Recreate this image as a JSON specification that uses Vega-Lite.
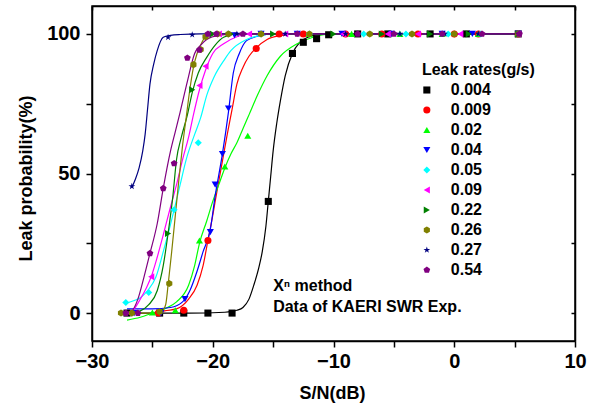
{
  "$schema": "https://vega.github.io/schema/vega-lite/v6.json",
  "width": 483,
  "height": 335,
  "autosize": "none",
  "padding": {"left": 92, "top": 6, "right": 24, "bottom": 66},
  "background": "white",
  "config": {"view": {"stroke": "#000", "strokeWidth": 1.5}},
  "datasets": {
    "pts": [
      {"s":"0.004","x":-27.1,"y":0},{"s":"0.004","x":-24.4,"y":0},{"s":"0.004","x":-22.4,"y":0},{"s":"0.004","x":-20.4,"y":0},{"s":"0.004","x":-18.4,"y":0},{"s":"0.004","x":-15.4,"y":40},{"s":"0.004","x":-13.4,"y":93},{"s":"0.004","x":-12.5,"y":97},{"s":"0.004","x":-11.4,"y":98.3},{"s":"0.004","x":-10.4,"y":99.7},{"s":"0.004","x":-8,"y":100},{"s":"0.004","x":-5.5,"y":100},{"s":"0.004","x":-2,"y":100},{"s":"0.004","x":1,"y":100},{"s":"0.004","x":5.3,"y":100},
      {"s":"0.009","x":-24.5,"y":0},{"s":"0.009","x":-22.4,"y":1},{"s":"0.009","x":-20.4,"y":26},{"s":"0.009","x":-16.4,"y":94.8},{"s":"0.009","x":-14.5,"y":100},{"s":"0.009","x":-12.5,"y":100},{"s":"0.009","x":-9,"y":100},{"s":"0.009","x":-6,"y":100},{"s":"0.009","x":-3,"y":100},{"s":"0.009","x":0,"y":100},{"s":"0.009","x":2,"y":100},{"s":"0.009","x":5.3,"y":100},
      {"s":"0.02","x":-25,"y":0.2},{"s":"0.02","x":-23.1,"y":1},{"s":"0.02","x":-21.1,"y":26},{"s":"0.02","x":-19,"y":52.5},{"s":"0.02","x":-17.1,"y":63.5},{"s":"0.02","x":-12,"y":100},{"s":"0.02","x":-8.5,"y":100},{"s":"0.02","x":-4.5,"y":100},{"s":"0.02","x":-1,"y":100},{"s":"0.02","x":2,"y":100},{"s":"0.02","x":5.3,"y":100},
      {"s":"0.04","x":-26.5,"y":0},{"s":"0.04","x":-24.3,"y":0},{"s":"0.04","x":-22.3,"y":5},{"s":"0.04","x":-20.2,"y":29},{"s":"0.04","x":-19.8,"y":46},{"s":"0.04","x":-19.2,"y":57},{"s":"0.04","x":-18.7,"y":73.3},{"s":"0.04","x":-18.2,"y":99.5},{"s":"0.04","x":-16,"y":100},{"s":"0.04","x":-13,"y":100},{"s":"0.04","x":-9.3,"y":100},{"s":"0.04","x":-5.2,"y":100},{"s":"0.04","x":-1,"y":100},{"s":"0.04","x":1.5,"y":100},{"s":"0.04","x":5.3,"y":100},
      {"s":"0.05","x":-27.2,"y":3.8},{"s":"0.05","x":-25.3,"y":7.4},{"s":"0.05","x":-23.2,"y":37},{"s":"0.05","x":-21.2,"y":61},{"s":"0.05","x":-16,"y":100},{"s":"0.05","x":-12,"y":100},{"s":"0.05","x":-7.5,"y":100},{"s":"0.05","x":-4,"y":100},{"s":"0.05","x":-0.5,"y":100},{"s":"0.05","x":2.2,"y":100},{"s":"0.05","x":5.3,"y":100},
      {"s":"0.09","x":-26.9,"y":0},{"s":"0.09","x":-25.1,"y":13},{"s":"0.09","x":-21.1,"y":81.5},{"s":"0.09","x":-20.6,"y":88.4},{"s":"0.09","x":-19.5,"y":100},{"s":"0.09","x":-17,"y":100},{"s":"0.09","x":-14,"y":100},{"s":"0.09","x":-9.2,"y":100},{"s":"0.09","x":-5.5,"y":100},{"s":"0.09","x":-3,"y":100},{"s":"0.09","x":0.5,"y":100},{"s":"0.09","x":5.3,"y":100},
      {"s":"0.22","x":-26.5,"y":0},{"s":"0.22","x":-23.7,"y":28.5},{"s":"0.22","x":-21.7,"y":80},{"s":"0.22","x":-20,"y":100},{"s":"0.22","x":-18.5,"y":100},{"s":"0.22","x":-15,"y":100},{"s":"0.22","x":-10,"y":100},{"s":"0.22","x":-6,"y":100},{"s":"0.22","x":-2,"y":100},{"s":"0.22","x":1.2,"y":100},{"s":"0.22","x":5.3,"y":100},
      {"s":"0.26","x":-27.6,"y":0},{"s":"0.26","x":-26.7,"y":0},{"s":"0.26","x":-24.4,"y":0.5},{"s":"0.26","x":-23.6,"y":10.6},{"s":"0.26","x":-21.6,"y":89},{"s":"0.26","x":-21,"y":94.4},{"s":"0.26","x":-20.6,"y":99},{"s":"0.26","x":-19.6,"y":100},{"s":"0.26","x":-18.7,"y":100},{"s":"0.26","x":-16,"y":100},{"s":"0.26","x":-12,"y":100},{"s":"0.26","x":-7,"y":100},{"s":"0.26","x":-3.5,"y":100},{"s":"0.26","x":0,"y":100},{"s":"0.26","x":5.3,"y":100},
      {"s":"0.27","x":-26.7,"y":45.4},{"s":"0.27","x":-23.7,"y":98.8},{"s":"0.27","x":-21.7,"y":99.7},{"s":"0.27","x":-18,"y":100},{"s":"0.27","x":-14,"y":100},{"s":"0.27","x":-9,"y":100},{"s":"0.27","x":-4.5,"y":100},{"s":"0.27","x":-0.8,"y":100},{"s":"0.27","x":2,"y":100},{"s":"0.27","x":5.3,"y":100},
      {"s":"0.54","x":-27.2,"y":0},{"s":"0.54","x":-26.2,"y":0},{"s":"0.54","x":-25.2,"y":21.4},{"s":"0.54","x":-24.1,"y":44.7},{"s":"0.54","x":-23.2,"y":53.6},{"s":"0.54","x":-22.1,"y":91.4},{"s":"0.54","x":-21.1,"y":94.3},{"s":"0.54","x":-20.4,"y":100},{"s":"0.54","x":-19.7,"y":100},{"s":"0.54","x":-17.5,"y":100},{"s":"0.54","x":-13,"y":100},{"s":"0.54","x":-8,"y":100},{"s":"0.54","x":-5,"y":100},{"s":"0.54","x":-1,"y":100},{"s":"0.54","x":2.3,"y":100},{"s":"0.54","x":5.4,"y":100}
    ],
    "crv": [
      {"s":"0.004","x":-27.3,"y":0},{"s":"0.004","x":-22,"y":0},{"s":"0.004","x":-19,"y":0.3},{"s":"0.004","x":-18.4,"y":0.6},{"s":"0.004","x":-18,"y":1},{"s":"0.004","x":-17.5,"y":2},{"s":"0.004","x":-17,"y":5},{"s":"0.004","x":-16.6,"y":10},{"s":"0.004","x":-16.2,"y":16},{"s":"0.004","x":-15.9,"y":22},{"s":"0.004","x":-15.6,"y":31},{"s":"0.004","x":-15.4,"y":40},{"s":"0.004","x":-15.2,"y":49},{"s":"0.004","x":-15,"y":58},{"s":"0.004","x":-14.7,"y":68},{"s":"0.004","x":-14.4,"y":76},{"s":"0.004","x":-14,"y":85},{"s":"0.004","x":-13.4,"y":93},{"s":"0.004","x":-12.8,"y":97},{"s":"0.004","x":-12,"y":99},{"s":"0.004","x":-11,"y":100},{"s":"0.004","x":5.3,"y":100},
      {"s":"0.009","x":-24.6,"y":0},{"s":"0.009","x":-24,"y":0.8},{"s":"0.009","x":-23,"y":1.5},{"s":"0.009","x":-22,"y":5},{"s":"0.009","x":-21.3,"y":10},{"s":"0.009","x":-20.8,"y":17},{"s":"0.009","x":-20.4,"y":26},{"s":"0.009","x":-20,"y":35},{"s":"0.009","x":-19.8,"y":40},{"s":"0.009","x":-19.3,"y":52},{"s":"0.009","x":-18.8,"y":64},{"s":"0.009","x":-18.4,"y":73},{"s":"0.009","x":-18,"y":82},{"s":"0.009","x":-17.5,"y":88},{"s":"0.009","x":-17,"y":92},{"s":"0.009","x":-16.4,"y":95},{"s":"0.009","x":-15.5,"y":98},{"s":"0.009","x":-14.4,"y":99.4},{"s":"0.009","x":-13,"y":100},{"s":"0.009","x":5.3,"y":100},
      {"s":"0.02","x":-27.1,"y":-2.5},{"s":"0.02","x":-26,"y":-1.5},{"s":"0.02","x":-25,"y":0},{"s":"0.02","x":-24,"y":1.5},{"s":"0.02","x":-23,"y":4},{"s":"0.02","x":-22,"y":10},{"s":"0.02","x":-21.5,"y":17},{"s":"0.02","x":-21.1,"y":25},{"s":"0.02","x":-20.5,"y":33},{"s":"0.02","x":-20,"y":40},{"s":"0.02","x":-19.5,"y":46},{"s":"0.02","x":-19,"y":52},{"s":"0.02","x":-18.5,"y":57},{"s":"0.02","x":-18,"y":61},{"s":"0.02","x":-17.5,"y":66},{"s":"0.02","x":-17,"y":71},{"s":"0.02","x":-16.3,"y":78},{"s":"0.02","x":-15.5,"y":85},{"s":"0.02","x":-14.4,"y":92},{"s":"0.02","x":-13,"y":96.5},{"s":"0.02","x":-11.7,"y":98.8},{"s":"0.02","x":-10,"y":100},{"s":"0.02","x":5.3,"y":100},
      {"s":"0.04","x":-27.1,"y":1.5},{"s":"0.04","x":-25,"y":1.5},{"s":"0.04","x":-23.5,"y":2},{"s":"0.04","x":-22.5,"y":4},{"s":"0.04","x":-21.9,"y":8},{"s":"0.04","x":-21.3,"y":15},{"s":"0.04","x":-20.8,"y":22},{"s":"0.04","x":-20.2,"y":30},{"s":"0.04","x":-19.8,"y":42},{"s":"0.04","x":-19.2,"y":57},{"s":"0.04","x":-18.7,"y":72},{"s":"0.04","x":-18.3,"y":86},{"s":"0.04","x":-17.8,"y":93},{"s":"0.04","x":-17.2,"y":97.6},{"s":"0.04","x":-16.1,"y":99.4},{"s":"0.04","x":-15,"y":100},{"s":"0.04","x":5.3,"y":100},
      {"s":"0.05","x":-27.2,"y":3.5},{"s":"0.05","x":-26.5,"y":4.5},{"s":"0.05","x":-26,"y":5.5},{"s":"0.05","x":-25.4,"y":8},{"s":"0.05","x":-24.7,"y":13},{"s":"0.05","x":-24.1,"y":22},{"s":"0.05","x":-23.6,"y":30},{"s":"0.05","x":-23.2,"y":37},{"s":"0.05","x":-22.7,"y":46},{"s":"0.05","x":-22.2,"y":55},{"s":"0.05","x":-21.5,"y":64},{"s":"0.05","x":-21,"y":70},{"s":"0.05","x":-20.5,"y":78},{"s":"0.05","x":-19.9,"y":84.5},{"s":"0.05","x":-19,"y":91},{"s":"0.05","x":-18.5,"y":94},{"s":"0.05","x":-17.2,"y":98},{"s":"0.05","x":-16,"y":99.5},{"s":"0.05","x":-15,"y":100},{"s":"0.05","x":5.3,"y":100},
      {"s":"0.09","x":-27,"y":0},{"s":"0.09","x":-26.6,"y":1},{"s":"0.09","x":-26,"y":5},{"s":"0.09","x":-25.5,"y":9},{"s":"0.09","x":-25.1,"y":13},{"s":"0.09","x":-24.6,"y":20},{"s":"0.09","x":-24.1,"y":28},{"s":"0.09","x":-23.5,"y":38},{"s":"0.09","x":-23,"y":46},{"s":"0.09","x":-22.5,"y":55},{"s":"0.09","x":-22,"y":63},{"s":"0.09","x":-21.6,"y":71},{"s":"0.09","x":-21.1,"y":80},{"s":"0.09","x":-20.6,"y":87},{"s":"0.09","x":-20,"y":93},{"s":"0.09","x":-19.1,"y":96.5},{"s":"0.09","x":-18,"y":99},{"s":"0.09","x":-17,"y":100},{"s":"0.09","x":5.3,"y":100},
      {"s":"0.22","x":-27,"y":0},{"s":"0.22","x":-26,"y":0.8},{"s":"0.22","x":-25.3,"y":3},{"s":"0.22","x":-24.6,"y":8},{"s":"0.22","x":-24.1,"y":17},{"s":"0.22","x":-23.7,"y":28.5},{"s":"0.22","x":-23.3,"y":42},{"s":"0.22","x":-23,"y":55},{"s":"0.22","x":-22.6,"y":63},{"s":"0.22","x":-22.1,"y":71},{"s":"0.22","x":-21.7,"y":79},{"s":"0.22","x":-21.2,"y":86},{"s":"0.22","x":-20.5,"y":91.6},{"s":"0.22","x":-19.8,"y":96},{"s":"0.22","x":-19.1,"y":98.8},{"s":"0.22","x":-18,"y":100},{"s":"0.22","x":5.3,"y":100},
      {"s":"0.26","x":-27.6,"y":0},{"s":"0.26","x":-25,"y":0},{"s":"0.26","x":-24.2,"y":0.8},{"s":"0.26","x":-23.9,"y":3},{"s":"0.26","x":-23.7,"y":10},{"s":"0.26","x":-23.4,"y":22},{"s":"0.26","x":-23.1,"y":35},{"s":"0.26","x":-22.8,"y":48},{"s":"0.26","x":-22.5,"y":60},{"s":"0.26","x":-22.2,"y":70},{"s":"0.26","x":-21.9,"y":80},{"s":"0.26","x":-21.6,"y":88},{"s":"0.26","x":-21.3,"y":93},{"s":"0.26","x":-21,"y":96},{"s":"0.26","x":-20.6,"y":99},{"s":"0.26","x":-19.5,"y":100},{"s":"0.26","x":5.3,"y":100},
      {"s":"0.27","x":-26.7,"y":45},{"s":"0.27","x":-26.4,"y":48},{"s":"0.27","x":-26.1,"y":52},{"s":"0.27","x":-25.8,"y":58},{"s":"0.27","x":-25.6,"y":64},{"s":"0.27","x":-25.4,"y":73},{"s":"0.27","x":-25.2,"y":82},{"s":"0.27","x":-24.9,"y":89},{"s":"0.27","x":-24.6,"y":94},{"s":"0.27","x":-24.1,"y":98.8},{"s":"0.27","x":-23.5,"y":99.5},{"s":"0.27","x":-22.7,"y":99.8},{"s":"0.27","x":-21,"y":100},{"s":"0.27","x":5.3,"y":100},
      {"s":"0.54","x":-27.2,"y":0},{"s":"0.54","x":-26.7,"y":0.8},{"s":"0.54","x":-26.2,"y":5},{"s":"0.54","x":-25.7,"y":12.8},{"s":"0.54","x":-25.2,"y":21.4},{"s":"0.54","x":-24.6,"y":32},{"s":"0.54","x":-24.1,"y":44.7},{"s":"0.54","x":-23.5,"y":58},{"s":"0.54","x":-23.1,"y":65},{"s":"0.54","x":-22.7,"y":72},{"s":"0.54","x":-22.1,"y":83},{"s":"0.54","x":-21.5,"y":93},{"s":"0.54","x":-21,"y":96},{"s":"0.54","x":-20.5,"y":98},{"s":"0.54","x":-19.5,"y":99.5},{"s":"0.54","x":-18,"y":100},{"s":"0.54","x":5.3,"y":100}
    ],
    "ann": [
      {"x":-15,"y":9.8,"label":"Xⁿ method"},
      {"x":-15,"y":2.3,"label":"Data of KAERI SWR Exp."}
    ],
    "leg": [
      {"s":"0.004"},{"s":"0.009"},{"s":"0.02"},{"s":"0.04"},{"s":"0.05"},{"s":"0.09"},{"s":"0.22"},{"s":"0.26"},{"s":"0.27"},{"s":"0.54"}
    ],
    "legtitle": [
      {"s":"title","t":"Leak rates(g/s)"}
    ]
  },
  "resolve": {"scale": {"y": "independent"}, "axis": {"x": "independent", "y": "independent"}},
  "layer": [
    {
      "mark": {"type": "rule", "color": "#000", "strokeWidth": 1.5},
      "encoding": {"x": {"datum": 10, "type": "quantitative",
        "axis": {"orient": "top", "values": [-30,-25,-20,-15,-10,-5,0,5,10], "labels": false, "title": null, "grid": false,
          "tickColor": "#000", "tickWidth": 1.5, "tickSize": -4, "domainColor": "#000", "domainWidth": 1.5}}}
    },
    {
      "mark": {"type": "rule", "color": "#000", "strokeWidth": 1.5},
      "encoding": {"y": {"datum": 110, "type": "quantitative", "scale": {"domain": [-10, 110], "nice": false, "zero": false},
        "axis": {"orient": "right", "values": [0,25,50,75,100], "labels": false, "title": null, "grid": false,
          "tickColor": "#000", "tickWidth": 1.5, "tickSize": -4, "domainColor": "#000", "domainWidth": 1.5}}}
    },
    {
      "data": {"name": "crv"},
      "mark": {"type": "line", "strokeWidth": 1.2, "interpolate": "monotone"},
      "encoding": {
        "x": {"field": "x", "type": "quantitative", "scale": {"domain": [-30, 10], "nice": false, "zero": false},
          "axis": {"orient": "bottom", "values": [-30,-25,-20,-15,-10,-5,0,5,10], "labelExpr": "datum.value % 10 === 0 ? datum.label : ''",
            "grid": false, "labelFont": "Liberation Sans", "labelFontSize": 20, "labelFontWeight": "bold", "labelColor": "#000", "labelPadding": 4, "labelFlush": false, "labelOverlap": false,
            "tickColor": "#000", "tickWidth": 1.5, "tickSize": 6,
            "domainColor": "#000", "domainWidth": 1.5,
            "title": "S/N(dB)", "titleFont": "Liberation Sans", "titleFontSize": 18, "titleFontWeight": "bold", "titleColor": "#000", "titleX": 240, "titleY": 52, "titleBaseline": "middle", "titleAlign": "center"}},
        "y": {"field": "y", "type": "quantitative", "scale": {"domain": [-10, 110], "nice": false, "zero": false},
          "axis": {"orient": "left", "values": [0,25,50,75,100], "labelExpr": "datum.value % 50 === 0 ? datum.label : ''",
            "grid": false, "labelFont": "Liberation Sans", "labelFontSize": 20, "labelFontWeight": "bold", "labelColor": "#000", "labelPadding": 6, "labelOverlap": false,
            "tickColor": "#000", "tickWidth": 1.5, "tickSize": 6,
            "domainColor": "#000", "domainWidth": 1.5,
            "title": "Leak probability(%)", "titleFont": "Liberation Sans", "titleFontSize": 18, "titleFontWeight": "bold", "titleColor": "#000", "titleX": -66, "titleY": 172, "titleBaseline": "middle", "titleAlign": "center", "titleAngle": -90}},
        "stroke": {"field": "s", "type": "nominal", "legend": null,
          "scale": {"domain": ["0.004","0.009","0.02","0.04","0.05","0.09","0.22","0.26","0.27","0.54"],
            "range": ["#000000","#ff0000","#00ff00","#0000ff","#00ffff","#ff00ff","#008000","#808000","#000080","#800080"]}},
        "detail": {"field": "s"}
      }
    },
    {
      "data": {"name": "pts"},
      "mark": {"type": "point", "filled": true, "size": 50, "opacity": 1},
      "encoding": {
        "x": {"field": "x", "type": "quantitative", "axis": null},
        "y": {"field": "y", "type": "quantitative", "scale": {"domain": [-10, 110], "nice": false, "zero": false}, "axis": null},
        "color": {"field": "s", "type": "nominal", "legend": null,
          "scale": {"domain": ["0.004","0.009","0.02","0.04","0.05","0.09","0.22","0.26","0.27","0.54"],
            "range": ["#000000","#ff0000","#00ff00","#0000ff","#00ffff","#ff00ff","#008000","#808000","#000080","#800080"]}},
        "shape": {"field": "s", "type": "nominal", "legend": null,
          "scale": {"domain": ["0.004","0.009","0.02","0.04","0.05","0.09","0.22","0.26","0.27","0.54"],
            "range": ["square","circle","triangle-up","triangle-down","diamond","triangle-left","triangle-right",
              "M0,-1L0.866,-0.5L0.866,0.5L0,1L-0.866,0.5L-0.866,-0.5Z",
              "M0,-1L0.225,-0.309L0.951,-0.309L0.363,0.118L0.588,0.809L0,0.382L-0.588,0.809L-0.363,0.118L-0.951,-0.309L-0.225,-0.309Z",
              "M0,-1L0.951,-0.309L0.588,0.809L-0.588,0.809L-0.951,-0.309Z"]}}
      }
    },
    {
      "data": {"name": "ann"},
      "mark": {"type": "text", "align": "left", "baseline": "middle", "font": "Liberation Sans", "fontSize": 16, "fontWeight": "bold", "color": "#000"},
      "encoding": {
        "x": {"field": "x", "type": "quantitative", "axis": null},
        "y": {"field": "y", "type": "quantitative", "scale": {"domain": [-10, 110], "nice": false, "zero": false}, "axis": null},
        "text": {"field": "label"}
      }
    },
    {
      "data": {"name": "leg"},
      "mark": {"type": "point", "filled": true, "size": 50, "opacity": 1},
      "encoding": {
        "x": {"datum": -2.27, "type": "quantitative", "axis": null},
        "y": {"field": "s", "type": "ordinal", "axis": null,
          "scale": {"type": "point", "domain": ["title","0.004","0.009","0.02","0.04","0.05","0.09","0.22","0.26","0.27","0.54"], "range": [64, 264], "padding": 0}},
        "color": {"field": "s", "type": "nominal", "legend": null},
        "shape": {"field": "s", "type": "nominal", "legend": null}
      }
    },
    {
      "data": {"name": "leg"},
      "mark": {"type": "text", "align": "left", "baseline": "middle", "dx": 24, "font": "Liberation Sans", "fontSize": 16, "fontWeight": "bold", "color": "#000"},
      "encoding": {
        "x": {"datum": -2.27, "type": "quantitative", "axis": null},
        "y": {"field": "s", "type": "ordinal", "axis": null,
          "scale": {"type": "point", "domain": ["title","0.004","0.009","0.02","0.04","0.05","0.09","0.22","0.26","0.27","0.54"], "range": [64, 264], "padding": 0}},
        "text": {"field": "s"}
      }
    },
    {
      "data": {"name": "legtitle"},
      "mark": {"type": "text", "align": "left", "baseline": "middle", "font": "Liberation Sans", "fontSize": 16, "fontWeight": "bold", "color": "#000"},
      "encoding": {
        "x": {"datum": -2.68, "type": "quantitative", "axis": null},
        "y": {"field": "s", "type": "ordinal", "axis": null,
          "scale": {"type": "point", "domain": ["title","0.004","0.009","0.02","0.04","0.05","0.09","0.22","0.26","0.27","0.54"], "range": [64, 264], "padding": 0}},
        "text": {"field": "t"}
      }
    }
  ]
}
